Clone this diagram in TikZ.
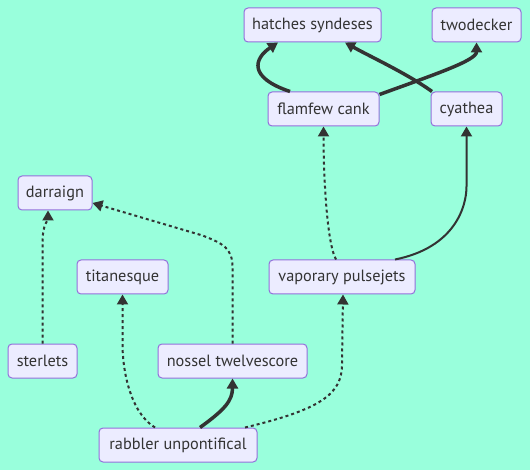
\documentclass[tikz,border=0pt]{standalone}
\usepackage{fontspec}
\setmainfont{PT Sans}
\usetikzlibrary{arrows.meta}
\definecolor{bgc}{RGB}{153,255,220}
\definecolor{nodefill}{HTML}{ECECFF}
\definecolor{nodeline}{HTML}{9370DB}
\definecolor{edgec}{HTML}{333333}
\tikzset{
  box/.style={draw=nodeline, fill=nodefill, line width=1pt, rounded corners=4pt,
    minimum height=34pt, inner sep=0pt, text=edgec, font=\fontsize{16.3}{18}\selectfont},
  tip/.style={-{Triangle[length=10pt,width=11pt]}},
  thickedge/.style={draw=edgec, line width=3.5pt, tip},
  normedge/.style={draw=edgec, line width=2pt, tip},
  dotedge/.style={draw=edgec, line width=2pt, dash pattern=on 3pt off 3pt, tip},
}
\begin{document}
\begin{tikzpicture}[x=1pt,y=-1pt]
\fill[bgc] (0,0) rectangle (530,470);
\useasboundingbox (0,0) rectangle (530,470);
\node[box, minimum width=137pt] (hat) at (312.5,25) {hatches syndeses};
\node[box, minimum width=89pt] (two) at (476.5,25) {twodecker};
\node[box, minimum width=111pt] (flam) at (323.5,109) {flamfew cank};
\node[box, minimum width=71pt] (cya) at (466.5,109) {cyathea};
\node[box, minimum width=74pt] (dar) at (55,193) {darraign};
\node[box, minimum width=91pt] (tit) at (122.5,277) {titanesque};
\node[box, minimum width=146pt] (vap) at (342,277) {vaporary pulsejets};
\node[box, minimum width=69pt] (ste) at (42.5,361) {sterlets};
\node[box, minimum width=149pt] (nos) at (232.5,361) {nossel twelvescore};
\node[box, minimum width=158pt] (rab) at (178,445) {rabbler unpontifical};

% flamfew -> hatches
\draw[thickedge] ([xshift=-33.5pt]flam.north) .. controls +(-42,-14) and +(-24,16) .. ([xshift=-34.5pt]hat.south);
% flamfew -> twodecker
\draw[thickedge] ([yshift=-3pt]flam.north east) .. controls +(55,-20) and +(0,18) .. (two.south);
% cyathea -> hatches
\draw[thickedge] ([xshift=1.5pt]cya.north west) .. controls +(-25,-18) and +(25,14) .. ([xshift=32.5pt]hat.south);
% vaporary -> flamfew
\draw[dotedge] ([xshift=-6pt]vap.north) .. controls +(-10,-18) and +(0,40) .. (flam.south);
% vaporary -> cyathea
\draw[normedge] ([xshift=53pt]vap.north) .. controls +(60,-12) and +(0,20) .. ([yshift=-60pt]cya.south) -- (cya.south);
% nossel -> darraign
\draw[dotedge] (nos.north) -- ([yshift=76pt]nos.north) .. controls +(0,-20) and +(20,8) .. ([xshift=-30pt,yshift=108pt]nos.north) -- ([yshift=-10pt]dar.east);
% sterlets -> darraign
\draw[dotedge] (ste.north) -- ([yshift=100pt]ste.north) .. controls +(0,-20) and +(0,10) .. ([xshift=-7pt]dar.south);
% rabbler -> titanesque
\draw[dotedge] ([xshift=-23pt]rab.north) .. controls +(-25,-15) and +(0,25) .. ([yshift=-50pt]tit.south) -- (tit.south);
% rabbler -> nossel
\draw[thickedge] ([xshift=22pt]rab.north) .. controls +(25,-18) and +(0,22) .. (nos.south);
% rabbler -> vaporary
\draw[dotedge] ([xshift=67pt]rab.north) .. controls +(75,-18) and +(0,30) .. ([yshift=-70pt]vap.south) -- ([xshift=1pt]vap.south);
\end{tikzpicture}
\end{document}
